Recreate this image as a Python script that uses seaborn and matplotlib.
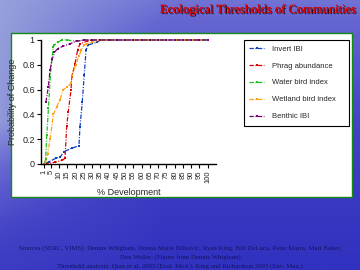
import numpy as np
import pandas as pd
import matplotlib
matplotlib.use("Agg")
import matplotlib.pyplot as plt
import matplotlib.patheffects as pe
from matplotlib.colors import LinearSegmentedColormap
from matplotlib.patches import Rectangle
import seaborn as sns

# ---------------- data ----------------
title = "Ecological Thresholds of Communities"
series_names = ["Invert IBI", "Phrag abundance", "Water bird index",
                "Wetland bird index", "Benthic IBI"]
flat_x = [35, 40, 45, 50, 55, 60, 65, 70, 75, 80, 85, 90, 95, 100]

invert_x = [1, 4, 8, 10.5, 13, 17.6, 22, 22.6, 24, 25.2, 26.3, 27.5, 32.7] + flat_x
invert_y = [0.0, 0.02, 0.046, 0.054, 0.10, 0.127, 0.148, 0.30, 0.50, 0.72, 0.92, 0.96, 0.98] + [1.0] * len(flat_x)

phrag_x = [1, 7.5, 11.9, 13.5, 14.6, 15.5, 17.2, 17.6, 19.6, 21.2, 22.6, 27, 30] + flat_x
phrag_y = [0.0, 0.014, 0.03, 0.046, 0.31, 0.42, 0.60, 0.70, 0.81, 0.92, 0.97, 0.99, 1.0] + [1.0] * len(flat_x)

water_x = [1, 1.8, 2.5, 3.5, 4.6, 5.5, 6.4, 7.1, 9, 11.5, 15, 20, 25, 30] + flat_x
water_y = [0.0, 0.04, 0.23, 0.45, 0.70, 0.84, 0.94, 0.96, 0.98, 1.0, 1.0, 0.99, 1.0, 1.0] + [1.0] * len(flat_x)

wetland_x = [1.5, 3, 4.5, 6.5, 8.5, 10.5, 12.5, 15, 17, 18, 20, 22, 23.5, 25, 27, 30] + flat_x
wetland_y = [0.0, 0.08, 0.20, 0.40, 0.46, 0.52, 0.60, 0.62, 0.65, 0.72, 0.80, 0.87, 0.92, 0.96, 0.97, 0.98] + [1.0] * len(flat_x)

benthic_x = [2, 3.4, 4.5, 5.9, 7.1, 9, 12.5, 16.6, 20.6, 25, 30] + flat_x
benthic_y = [0.50, 0.62, 0.76, 0.85, 0.90, 0.93, 0.95, 0.97, 0.99, 1.0, 1.0] + [1.0] * len(flat_x)

xtick_vals = [1, 5, 10, 15, 20, 25, 30, 35, 40, 45, 50, 55, 60, 65, 70, 75, 80, 85, 90, 95, 100]
ytick_vals = [0, 0.2, 0.4, 0.6, 0.8, 1.0]
ytick_labels = ["0", "0.2", "0.4", "0.6", "0.8", "1"]

source_lines = [
    "Sources (SERC, VIMS): Dennis Whigham, Donna Marie Bilkovic, Ryan King, Bill DeLuca, Peter Marra, Matt Baker,",
    "Don Weller; (Figure from Dennis Whigham)",
    "Threshold analysis: Qian et al. 2003 (Ecol. Mod.); King and Richardson 2003 (Env. Man.)",
]

colors = ["#1040c0", "#e00000", "#20c020", "#ffa010", "#7a007a"]

# ---------------- figure ----------------
sns.set_theme(style="white")
plt.rcParams["font.family"] = ["Liberation Sans", "DejaVu Sans"]

fig = plt.figure(figsize=(3.6, 2.7), dpi=100)

# slide background
bg = fig.add_axes([0, 0, 1, 1], zorder=0)
bg.set_axis_off()
gx, gy = np.meshgrid(np.linspace(0, 1, 200), np.linspace(0, 1, 150))
field = 0.55 * (1 - gy) ** 1.3 + 0.45 * np.clip(1 - gx * 2.2, 0, 1) * (1 - np.abs(gy - 0.45) * 1.3)
field = np.clip(field, 0, 1)
cmap = LinearSegmentedColormap.from_list("slide", ["#3232c0", "#4444c6", "#6666d2", "#9aa4dc", "#b8cdf0"])
bg.imshow(field, cmap=cmap, aspect="auto", extent=[0, 1, 0, 1], origin="upper", vmin=0, vmax=1)
bg.set_xlim(0, 1)
bg.set_ylim(0, 1)

# white chart panel with green border
panel = Rectangle((0.0306, 0.2715), 0.948, 0.6074, transform=fig.transFigure,
                  facecolor="white", edgecolor="#138a13", linewidth=1.0, zorder=1)
fig.patches.append(panel)

ax = fig.add_axes([0.1139, 0.3926, 0.4861, 0.4593], zorder=2)
ax.set_facecolor("none")

dash = (0, (3.5, 1.2, 0.8, 1.2))
all_x = [invert_x, phrag_x, water_x, wetland_x, benthic_x]
all_y = [invert_y, phrag_y, water_y, wetland_y, benthic_y]
for name, xs, ys, c in zip(series_names, all_x, all_y, colors):
    df = pd.DataFrame({"dev": xs, "prob": ys})
    sns.lineplot(data=df, x="dev", y="prob", ax=ax, color=c, linewidth=0.9,
                 linestyle=dash, marker="s", markersize=1.8, markeredgewidth=0,
                 label=name, sort=False, estimator=None, clip_on=False)

ax.set_xlim(-1, 105)
ax.set_ylim(0, 1)
ax.set_xticks(xtick_vals)
ax.set_xticklabels([str(v) for v in xtick_vals], rotation=90, fontsize=5.5)
ax.set_yticks(ytick_vals)
ax.set_yticklabels(ytick_labels, fontsize=6.5)
ax.tick_params(axis="both", direction="out", length=3, width=0.8, color="black", pad=1.5)
ax.xaxis.set_tick_params(bottom=True)
ax.yaxis.set_tick_params(left=True)
for s in ["top", "right"]:
    ax.spines[s].set_visible(False)
for s in ["left", "bottom"]:
    ax.spines[s].set_color("black")
    ax.spines[s].set_linewidth(1.0)
ax.set_xlabel("% Development", fontsize=6.5, labelpad=4)
ax.set_ylabel("Probability of Change", fontsize=6.5, labelpad=4)

leg = ax.legend(loc="upper left", bbox_to_anchor=(0.678, 0.852, 0.292, 0.0),
                bbox_transform=fig.transFigure, mode="expand", fontsize=5.5,
                frameon=True, fancybox=False, edgecolor="black", framealpha=1,
                handlelength=1.9, handletextpad=1.0, labelspacing=1.25,
                borderpad=0.7, borderaxespad=0)
leg.get_frame().set_linewidth(0.8)

fig.text(0.989, 0.963, title, ha="right", va="center", fontsize=9,
         family=["Liberation Serif", "DejaVu Serif"], color="#d40000",
         path_effects=[pe.withSimplePatchShadow(offset=(0.8, -0.8), shadow_rgbFace="#200000", alpha=0.9),
                       pe.Normal()])

for txt, yy in zip(source_lines, [0.0804, 0.047, 0.015]):
    fig.text(0.5, yy, txt, ha="center", va="center", fontsize=4.9,
             family=["Liberation Serif", "DejaVu Serif"], color="#121266")

fig.savefig("out.png", dpi=100)
